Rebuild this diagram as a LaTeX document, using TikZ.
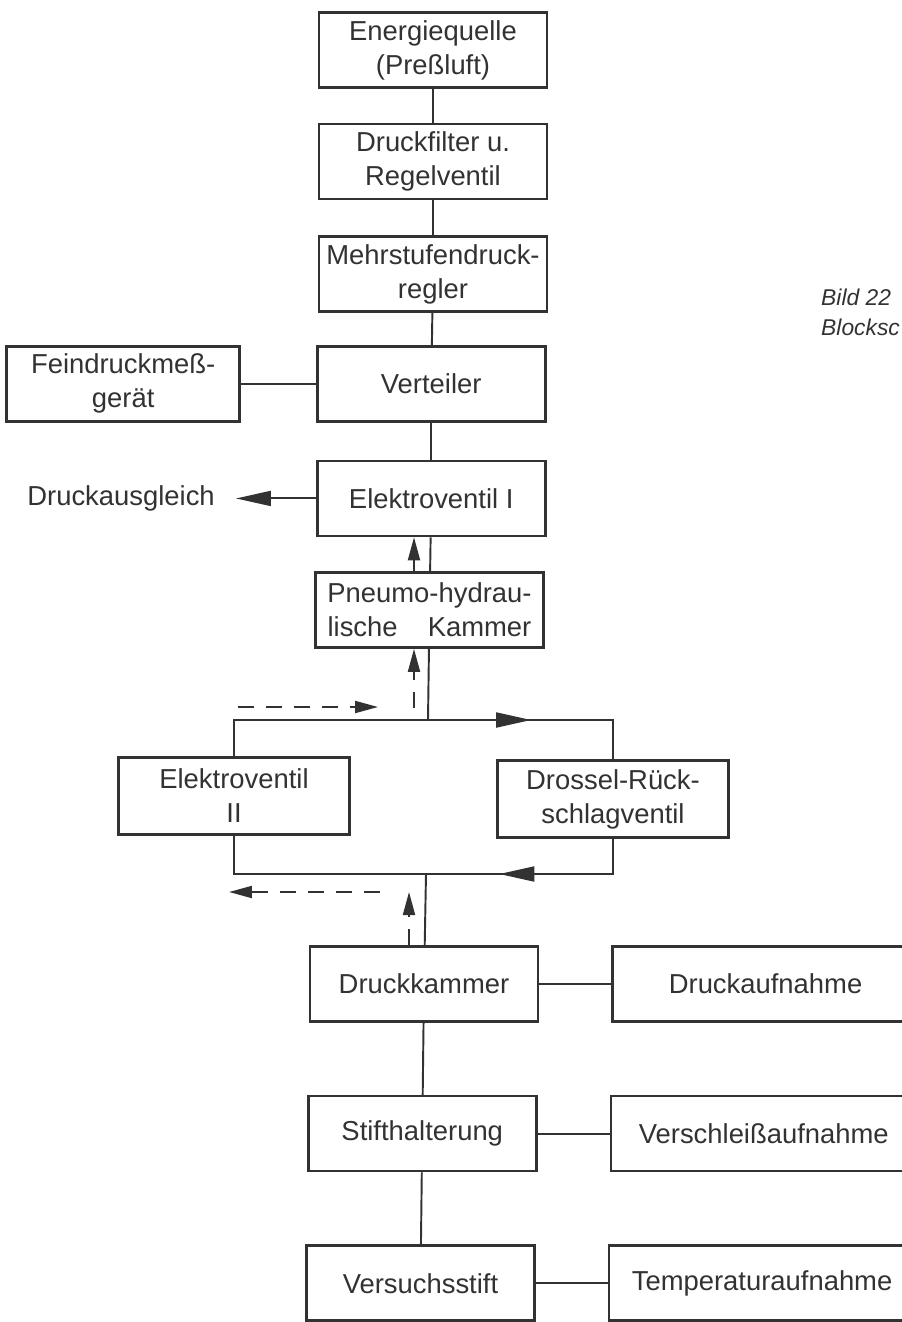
\documentclass[tikz,border=0pt]{standalone}
\usepackage{fontspec}
\setmainfont{Liberation Sans}
\usetikzlibrary{
  positioning,
  arrows.meta,
  decorations.markings
}
\definecolor{ink}{RGB}{50,50,50}
\tikzset{
  block/.style={draw=ink, line width=1.5pt, minimum width=4.56cm, minimum height=1.5cm,
    align=center, inner sep=1pt, text=ink, font=\fontsize{15.6}{19.4}\selectfont},
  wideblock/.style={block, minimum width=6.12cm},
  link/.style={draw=ink, color=ink, line width=1.1pt},
  bigtip/.tip={Triangle[length=0.7cm, width=0.3cm]},
  smalltip/.tip={Triangle[length=0.46cm, width=0.24cm]},
  gas/.style={link, dash pattern=on 9pt off 7pt, -{smalltip}},
  midtip/.style={postaction={decorate},
    decoration={markings, mark=at position #1 with {\arrow{bigtip}}}}
}

\begin{document}
\begin{tikzpicture}[x=0.02cm, y=-0.02cm, node distance=0.68cm]
    \useasboundingbox (0,0) rectangle (902,1322);

    \node[block] (eq) at (433,50) {Energiequelle\\(Preßluft)};
    \node[block, below=of eq] (filter) {Druckfilter u.\\Regelventil};
    \node[block, below=0.7cm of filter] (regler) {Mehrstufendruck-\\regler};
    \node[block, below=0.64cm of regler, xshift=-1pt] (vert) {Verteiler};
    \node[block, minimum width=4.66cm, left=1.5cm of vert] (fein) {Feindruckmeß-\\gerät};
    \node[block, below=0.74cm of vert] (ev1) {Elektroventil I};
    \node[text=ink, font=\fontsize{15.6}{19.4}\selectfont, left=1.9cm of ev1] (ausgl) {Druckausgleich};
    \node[block, below=0.68cm of ev1, xshift=-1pt] (pneu) {Pneumo-hydrau-\\lische\hspace{1.1em}Kammer};

    \node[block, minimum width=4.62cm, minimum height=1.54cm] (ev2) at (234,796) {Elektroventil\\II};
    \node[block, minimum width=4.62cm, minimum height=1.54cm] (dros) at (613,799) {Drossel-Rück-\\schlagventil};
    \coordinate (jt) at (428,720);
    \coordinate (jb) at (426,874);

    \node[block] (dk) at (424,984) {Druckkammer};
    \node[wideblock, right=1.44cm of dk] (da) {Druckaufnahme};
    \node[block, below=1.44cm of dk, xshift=-1pt] (sh) {Stifthalterung};
    \node[wideblock, right=1.44cm of sh] (vs) {Verschleißaufnahme};
    \node[block, below=1.44cm of sh, xshift=-1pt] (stift) {Versuchsstift};
    \node[wideblock, right=1.44cm of stift] (temp) {Temperaturaufnahme};

    \node[text=ink, font=\fontsize{13}{16}\selectfont\itshape, anchor=base west] (bild) at (815,305) {Bild 22};
    \node[text=ink, font=\fontsize{13}{16}\selectfont\itshape, anchor=base west] (blocksc) at (815,335) {Blocksc};

    \draw[link] (eq) -- (filter);
    \draw[link] (filter) -- (regler);
    \draw[link] (regler) -- (vert);
    \draw[link] (fein) -- (vert);
    \draw[link] (vert) -- (ev1);
    \draw[link, -{bigtip}, shorten >=0.3cm] (ev1) -- (ausgl);
    \draw[link] (ev1) -- (pneu);
    \draw[link] (pneu) -- (jt);
    \draw[link] (jt) -| (ev2);
    \draw[link, midtip=0.46] (jt) -| (dros);
    \draw[link] (ev2) |- (jb);
    \draw[link, midtip=0.67] (dros) |- (jb);
    \draw[link] (jb) -- (dk);
    \draw[link] (dk) -- (da);
    \draw[link] (dk) -- (sh);
    \draw[link] (sh) -- (vs);
    \draw[link] (sh) -- (stift);
    \draw[link] (stift) -- (temp);

    \coordinate (up) at (414,708);
    \draw[link, -{smalltip}] (pneu.north -| up) -- (ev1.south -| up);
    \draw[gas] (up) -- (up |- pneu.south);
    \coordinate (inl) at (238,707);
    \coordinate (inr) at (378,707);
    \draw[gas] (inl) -- (inr);
    \coordinate (outr) at (380,892);
    \coordinate (outl) at (229,892);
    \draw[gas] (outr) -- (outl);
    \coordinate (ret) at (409,892);
    \draw[gas] (dk.north -| ret) -- (ret);
\end{tikzpicture}
\end{document}
